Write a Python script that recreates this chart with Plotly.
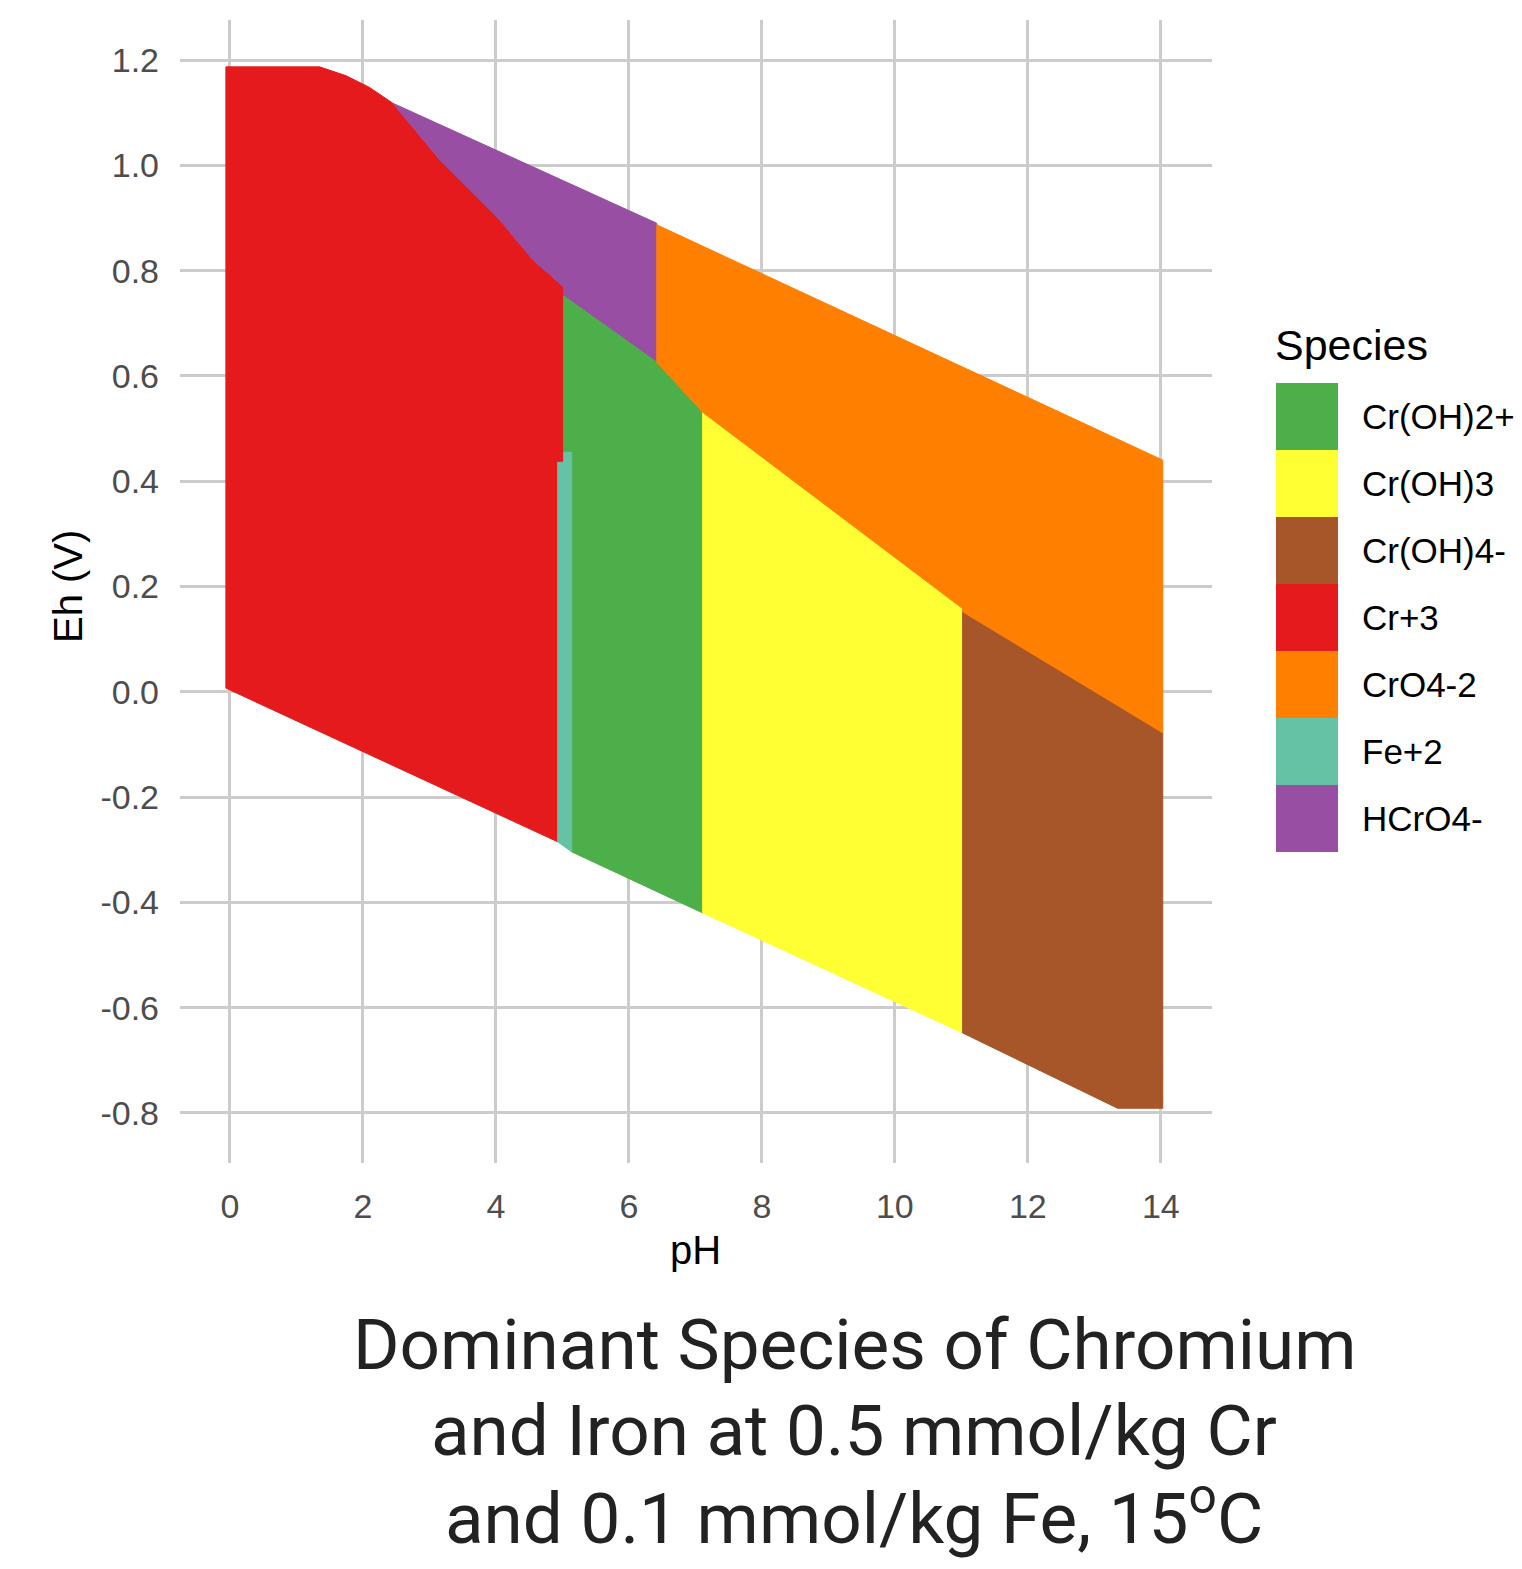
import plotly.graph_objects as go

# ---------------- data (pH, Eh in V) ----------------
species = ["Cr(OH)2+", "Cr(OH)3", "Cr(OH)4-", "Cr+3", "CrO4-2", "Fe+2", "HCrO4-"]
colors = ["#4DAF4A", "#FFFF33", "#A65628", "#E41A1C", "#FF7F00", "#66C2A5", "#984EA3"]

cr3_ph = [-0.06, 1.35, 1.75, 2.10, 2.45, 3.16, 4.06, 4.56, 5.02, 5.02, 4.93, 4.93, -0.06]
cr3_eh = [1.187, 1.187, 1.170, 1.148, 1.118, 1.010, 0.896, 0.820, 0.769, 0.436, 0.436, -0.285, 0.007]

hcro4_ph = [2.45, 6.42, 6.42, 5.02, 5.02, 4.56, 4.06, 3.16]
hcro4_eh = [1.118, 0.890, 0.626, 0.752, 0.769, 0.820, 0.896, 1.010]

croh2_ph = [5.02, 6.42, 7.11, 7.11, 5.14, 5.14, 5.02]
croh2_eh = [0.752, 0.626, 0.531, -0.420, -0.304, 0.455, 0.455]

fe2_ph = [4.93, 5.02, 5.02, 5.14, 5.14, 4.93]
fe2_eh = [0.436, 0.436, 0.455, 0.455, -0.304, -0.285]

croh3_ph = [7.11, 11.02, 11.02, 7.11]
croh3_eh = [0.531, 0.158, -0.648, -0.420]

croh4_ph = [11.02, 14.03, 14.03, 13.35, 11.02]
croh4_eh = [0.152, -0.078, -0.791, -0.791, -0.648]

cro4_ph = [6.42, 14.03, 14.03, 11.02, 11.02, 7.11, 6.42]
cro4_eh = [0.887, 0.440, -0.078, 0.152, 0.158, 0.531, 0.626]

x_ticks = [0, 2, 4, 6, 8, 10, 12, 14]
x_ticklabels = ["0", "2", "4", "6", "8", "10", "12", "14"]
y_ticks = [-0.8, -0.6, -0.4, -0.2, 0.0, 0.2, 0.4, 0.6, 0.8, 1.0, 1.2]
y_ticklabels = ["-0.8", "-0.6", "-0.4", "-0.2", "0.0", "0.2", "0.4", "0.6", "0.8", "1.0", "1.2"]

title_lines = ["Dominant Species of Chromium",
               "and Iron at 0.5 mmol/kg Cr",
               "and 0.1 mmol/kg Fe, 15<sup>o</sup>C"]

# ---------------- layout geometry (screen pixels) ----------------
OFF = 8                      # page body margin
W, H = 1522 - 2 * OFF, 1569 - 2 * OFF
PL, PR, PT, PB = 180, 1212, 20, 1163   # plot area on screen
def px(x):
    return (x - PL) / (PR - PL)
def py(y):
    return (PB - y) / (PB - PT)

FONT = "Liberation Sans, Arial, sans-serif"

fig = go.Figure()
regions = {
    "Cr+3": (cr3_ph, cr3_eh),
    "HCrO4-": (hcro4_ph, hcro4_eh),
    "Cr(OH)2+": (croh2_ph, croh2_eh),
    "Fe+2": (fe2_ph, fe2_eh),
    "Cr(OH)3": (croh3_ph, croh3_eh),
    "Cr(OH)4-": (croh4_ph, croh4_eh),
    "CrO4-2": (cro4_ph, cro4_eh),
}
for name, (xs, ys) in regions.items():
    c = colors[species.index(name)]
    fig.add_trace(go.Scatter(
        x=xs + [xs[0]], y=ys + [ys[0]], mode="lines", fill="toself",
        fillcolor=c, line=dict(color=c, width=1), name=name,
        showlegend=False, hoverinfo="name"))

fig.update_layout(
    width=W, height=H,
    margin=dict(l=PL - OFF, r=W - (PR - OFF), t=PT - OFF, b=H - (PB - OFF)),
    plot_bgcolor="white", paper_bgcolor="white",
    showlegend=False,
    font=dict(family=FONT),
    xaxis=dict(range=[-0.75, 14.77], tickvals=x_ticks, ticktext=x_ticklabels,
               showgrid=True, gridcolor="#CCCCCC", gridwidth=2.5, zeroline=False,
               showline=False, ticks="", ticklabelstandoff=20,
               tickfont=dict(size=34, color="#4D4D4D", family=FONT)),
    yaxis=dict(range=[-0.895, 1.276], tickvals=y_ticks, ticktext=y_ticklabels,
               showgrid=True, gridcolor="#CCCCCC", gridwidth=2.5, zeroline=False,
               showline=False, ticks="", ticklabelstandoff=20,
               tickfont=dict(size=34, color="#4D4D4D", family=FONT)),
)

ann = []
# axis titles
ann.append(dict(text="pH", x=px(695), y=py(1250), xref="paper", yref="paper",
                xanchor="center", yanchor="middle",
                showarrow=False, font=dict(size=40, color="black", family=FONT)))
ann.append(dict(text="Eh (V)", x=px(68), y=py(587), xref="paper", yref="paper",
                xanchor="center", yanchor="middle",
                textangle=-90, showarrow=False, font=dict(size=40, color="black", family=FONT)))
# legend
ann.append(dict(text="Species", x=px(1273), y=py(345), xref="paper", yref="paper",
                xanchor="left", yanchor="middle", showarrow=False,
                font=dict(size=43, color="black", family=FONT)))
shapes = []
top = 383
step = 67
for i, (s, c) in enumerate(zip(species, colors)):
    y0 = top + i * step
    shapes.append(dict(type="rect", xref="paper", yref="paper",
                       x0=px(1276), x1=px(1338), y0=py(y0 + step), y1=py(y0),
                       fillcolor=c, line=dict(width=0)))
    ann.append(dict(text=s, x=px(1360), y=py(y0 + step / 2), xref="paper", yref="paper",
                    xanchor="left", yanchor="middle", showarrow=False,
                    font=dict(size=35, color="black", family=FONT)))
# caption title, one line per annotation
for line, yc in zip(title_lines, [1344, 1430, 1513]):
    ann.append(dict(text=line, x=px(854), y=py(yc), xref="paper", yref="paper",
                    xanchor="center", yanchor="middle", showarrow=False, align="center",
                    font=dict(size=71, color="#222222", family="Roboto, Inter, sans-serif")))

fig.update_layout(annotations=ann, shapes=shapes)
fig.write_html("out.html")
